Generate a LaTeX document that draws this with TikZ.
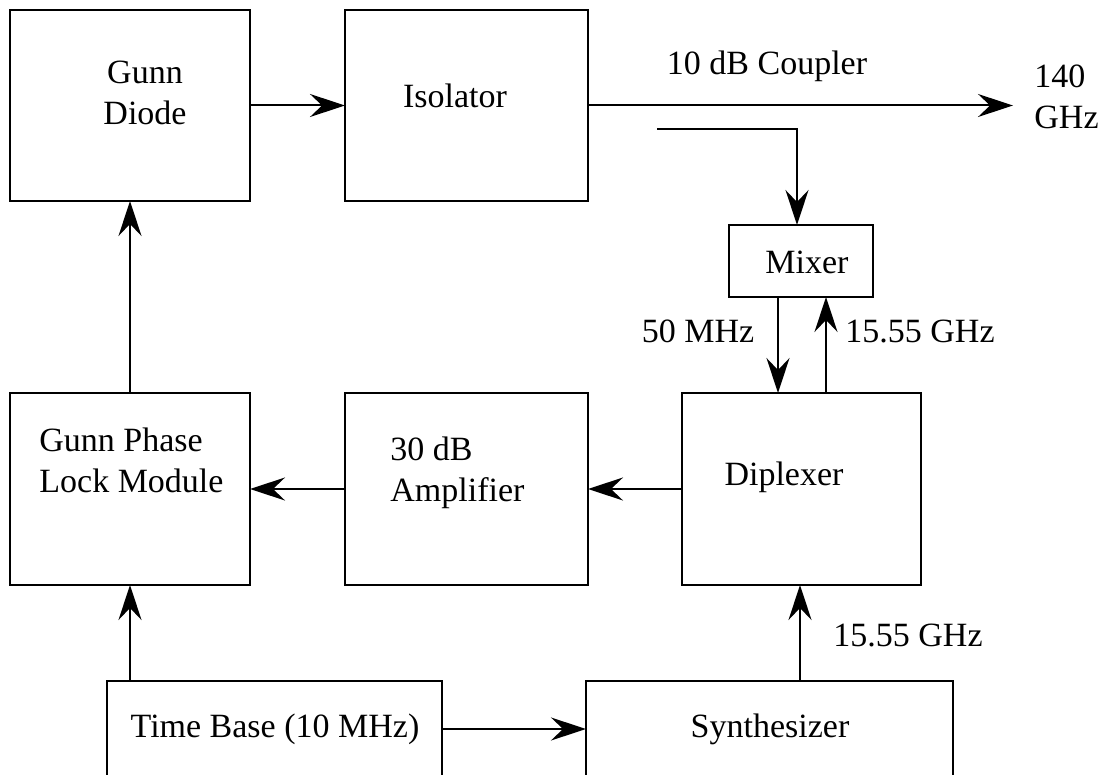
\documentclass[tikz,border=0pt]{standalone}
\usepackage{fontspec}
\setmainfont{Liberation Serif}
\usetikzlibrary{arrows.meta}
\begin{document}
\begin{tikzpicture}[x=0.5pt,y=-0.5pt,
  box/.style={draw,line width=1pt,inner sep=0pt,outer sep=0pt},
  lbl/.style={inner sep=0pt,font=\fontsize{17}{20.5}\selectfont},
  arr/.style={line width=1pt,-{Stealth[length=17.5pt,width=11.5pt,inset=6pt]}},
  ln/.style={line width=1pt}]
\useasboundingbox (0,0) rectangle (1114,775);
\clip (0,0) rectangle (1114,775);
\fill[white] (0,0) rectangle (1114,775);
% boxes
\node[box,minimum width=120pt,minimum height=95.5pt] (gd) at (130,105.5) {};
\node[box,minimum width=121.5pt,minimum height=95.5pt] (iso) at (466.5,105.5) {};
\node[box,minimum width=72pt,minimum height=36pt] (mix) at (801,261) {};
\node[box,minimum width=119.5pt,minimum height=96pt] (dip) at (801.5,489) {};
\node[box,minimum width=121.5pt,minimum height=96pt] (amp) at (466.5,489) {};
\node[box,minimum width=120pt,minimum height=96pt] (gplm) at (130,489) {};
\node[box,minimum width=167.5pt,minimum height=48pt] (tb) at (274.5,729) {};
\node[box,minimum width=183.5pt,minimum height=48pt] (syn) at (769.5,729) {};
% texts
\node[lbl,align=center] (tgd) at (145,93) {Gunn\\Diode};
\node[lbl] (tiso) at (455,96) {Isolator};
\node[lbl] (tcoup) at (767,66) {10 dB Coupler};
\node[lbl,align=left,anchor=west] (t140) at (1034,97) {140\\GHz};
\node[lbl] (tmix) at (807,262) {Mixer};
\node[lbl] (t50) at (698,331) {50 MHz};
\node[lbl] (t1555a) at (920,331) {15.55 GHz};
\node[lbl] (tdip) at (784,477) {Diplexer};
\node[lbl,align=left,anchor=west] (tamp) at (390,473) {30 dB\\Amplifier};
\node[lbl,align=left,anchor=west] (tgplm) at (39,460) {Gunn Phase\\Lock Module};
\node[lbl] (ttb) at (275,729) {Time Base (10 MHz)};
\node[lbl] (tsyn) at (770,729) {Synthesizer};
\node[lbl] (t1555b) at (908,635) {15.55 GHz};
% coordinates
\coordinate (out) at (1013,105.5);
\coordinate (c1) at (657,129);
\coordinate (a50) at (778,0);
\coordinate (b15) at (826,0);
\coordinate (s15) at (800,0);
% connectors
\draw[arr] (gd.east) -- (iso.west);
\draw[arr] (iso.east) -- (out);
\draw[arr] (c1) -| ([xshift=-2pt]mix.north);
\draw[arr] (mix.south -| a50) -- (dip.north -| a50);
\draw[arr] (dip.north -| b15) -- (mix.south -| b15);
\draw[arr] (dip.west) -- (amp.east);
\draw[arr] (amp.west) -- (gplm.east);
\draw[arr] (gplm.north) -- (gd.south);
\draw[arr] (tb.north -| gplm.south) -- (gplm.south);
\draw[arr] (tb.east) -- (syn.west);
\draw[arr] (syn.north -| s15) -- (dip.south -| s15);
\end{tikzpicture}
\end{document}
